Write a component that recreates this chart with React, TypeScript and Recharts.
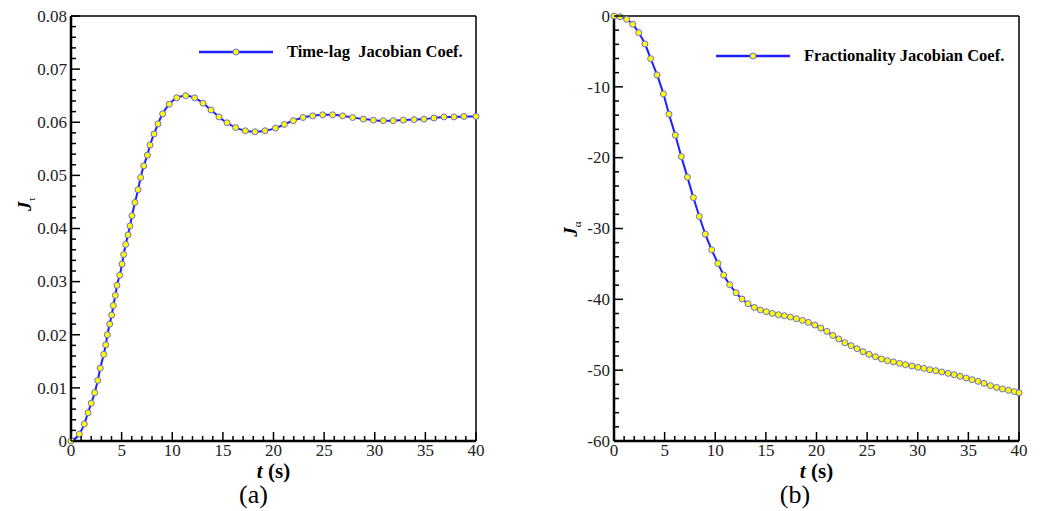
import React from 'react';
import { LineChart, Line, XAxis, YAxis, Legend, ReferenceLine } from 'recharts';

// (a) time-lag Jacobian coefficient, marker positions
const timeA = [
  0, 0.82, 1.31, 1.68, 2.0, 2.34, 2.64, 2.89, 3.23, 3.43, 3.59, 3.82, 4.02, 4.18, 4.38, 4.54,
  4.81, 5.04, 5.2, 5.4, 5.63, 5.83, 6.02, 6.32, 6.62, 6.88, 7.18, 7.54, 7.8, 8.2, 8.59, 9.05,
  9.71, 10.44, 11.33, 12.21, 13.04, 13.83, 14.62, 15.41, 16.26, 17.22, 18.17, 19.16, 20.2,
  21.07, 21.96, 22.91, 23.87, 24.86, 25.84, 26.83, 27.82, 28.87, 29.86, 30.84, 31.83, 32.82,
  33.88, 34.86, 35.85, 36.84, 37.83, 38.81, 40,
];
const jTau = [
  0, 0.0013, 0.0032, 0.0053, 0.0071, 0.0091, 0.0114, 0.0137, 0.0163, 0.0181, 0.02, 0.022,
  0.0237, 0.0255, 0.0274, 0.0293, 0.0312, 0.0333, 0.0351, 0.037, 0.0388, 0.0405, 0.0424,
  0.0449, 0.0473, 0.0496, 0.0518, 0.0538, 0.0557, 0.0578, 0.0597, 0.0616, 0.0634, 0.0646,
  0.065, 0.0646, 0.0636, 0.0623, 0.061, 0.0599, 0.059, 0.0584, 0.0582, 0.0584, 0.0589,
  0.0596, 0.0603, 0.0609, 0.0612, 0.0614, 0.0614, 0.0612, 0.0609, 0.0606, 0.0604, 0.0603,
  0.0603, 0.0604, 0.0605, 0.0606, 0.0608, 0.061, 0.061, 0.0611, 0.0611,
];

// (b) fractionality Jacobian coefficient
const timeB = [
  0, 0.6, 1.25, 1.85, 2.44, 3.06, 3.62, 4.25, 4.88, 5.43, 6.06, 6.65, 7.25, 7.84, 8.43, 9.02,
  9.65, 10.27, 10.83, 11.43, 12.05, 12.64, 13.24, 13.86, 14.46, 15.05, 15.64, 16.24, 16.83,
  17.42, 18.02, 18.61, 19.2, 19.83, 20.42, 21.02, 21.61, 22.2, 22.8, 23.42, 24.01, 24.6, 25.2,
  25.82, 26.42, 27.01, 27.6, 28.2, 28.79, 29.42, 30.01, 30.6, 31.19, 31.78, 32.37, 33.0,
  33.59, 34.18, 34.78, 35.37, 35.96, 36.55, 37.18, 37.78, 38.37, 38.96, 39.56, 40,
];
const jAlpha = [
  0, -0.1, -0.47, -1.17, -2.36, -3.95, -6.02, -8.32, -11.0, -13.86, -16.83, -19.85, -22.75,
  -25.63, -28.31, -30.79, -33.0, -34.94, -36.57, -37.94, -39.07, -39.96, -40.62, -41.14,
  -41.5, -41.75, -41.99, -42.17, -42.31, -42.5, -42.74, -42.98, -43.26, -43.62, -44.05,
  -44.53, -45.09, -45.6, -46.12, -46.54, -46.97, -47.39, -47.77, -48.1, -48.42, -48.66,
  -48.84, -49.04, -49.22, -49.41, -49.6, -49.75, -49.93, -50.07, -50.25, -50.45, -50.63,
  -50.87, -51.1, -51.34, -51.58, -51.86, -52.19, -52.43, -52.65, -52.85, -53.03, -53.2,
];

const xMajor = [0, 5, 10, 15, 20, 25, 30, 35, 40];
const xLabels = ['0', '5', '10', '15', '20', '25', '30', '35', '40'];
const yMajorA = [0, 0.01, 0.02, 0.03, 0.04, 0.05, 0.06, 0.07, 0.08];
const yLabelsA = ['0', '0.01', '0.02', '0.03', '0.04', '0.05', '0.06', '0.07', '0.08'];
const yMajorB = [-60, -50, -40, -30, -20, -10, 0];
const yLabelsB = ['-60', '-50', '-40', '-30', '-20', '-10', '0'];

const SERIF = '"Liberation Serif", "Times New Roman", serif';
const LINE_BLUE = '#1f1fff';
const DOT = { r: 3, fill: '#ffff00', stroke: '#6b6bd6', strokeWidth: 1 };
const AXIS_W = 30;

// four minor ticks between each pair of majors
function withMinor(major: number[]) {
  const out: number[] = [];
  for (let i = 0; i < major.length - 1; i++) {
    const step = (major[i + 1] - major[i]) / 5;
    for (let k = 0; k < 5; k++) out.push(major[i] + step * k);
  }
  out.push(major[major.length - 1]);
  return out;
}

function labelOf(v: number, major: number[], labels: string[]) {
  const i = major.findIndex((m) => Math.abs(m - v) < 1e-9);
  return i >= 0 ? labels[i] : null;
}

const makeXTick = (major: number[], labels: string[]) => (props: any) => {
  const { x, y, payload } = props;
  const label = labelOf(payload.value, major, labels);
  return (
    <g>
      <line x1={x} y1={y} x2={x} y2={y - (label !== null ? 9 : 5)} stroke="#000" strokeWidth={1.5} />
      {label !== null && (
        <text x={x} y={y + 14.5} textAnchor="middle" fontFamily={SERIF} fontSize={17} fill="#222">
          {label}
        </text>
      )}
    </g>
  );
};

const makeYTick = (major: number[], labels: string[]) => (props: any) => {
  const { x, y, payload } = props;
  const label = labelOf(payload.value, major, labels);
  return (
    <g>
      <line x1={x} y1={y} x2={x + (label !== null ? 9 : 5)} y2={y} stroke="#000" strokeWidth={1.5} />
      {label !== null && (
        <text x={x - 4} y={y} dy="0.34em" textAnchor="end" fontFamily={SERIF} fontSize={17} fill="#222">
          {label}
        </text>
      )}
    </g>
  );
};

const makeLegend = (text: string) => () => (
  <svg width={320} height={24} style={{ display: 'block' }}>
    <line x1={0} y1={12} x2={74} y2={12} stroke={LINE_BLUE} strokeWidth={2.5} />
    <circle cx={37} cy={12} r={3} fill="#ffff00" stroke="#6b6bd6" strokeWidth={1} />
    <text x={88} y={17} fontFamily={SERIF} fontWeight="bold" fontSize={16.5} fill="#000" style={{ whiteSpace: 'pre' }}>
      {text}
    </text>
  </svg>
);

interface PanelProps {
  left: number;
  time: number[];
  values: number[];
  yDomain: [number, number];
  yMajor: number[];
  yLabels: string[];
  plotLeft: number;
  marginRight: number;
  legendText: string;
  legendLeft: number;
  legendTop: number;
}

function Panel(p: PanelProps) {
  const data = p.time.map((t, i) => ({ t, v: p.values[i] }));
  return (
    <div style={{ position: 'absolute', left: p.left, top: 0 }}>
      <LineChart
        width={520}
        height={511}
        data={data}
        margin={{ top: 16, right: p.marginRight, bottom: 70 - AXIS_W, left: p.plotLeft - AXIS_W }}
      >
        <XAxis
          dataKey="t"
          type="number"
          domain={[0, 40]}
          ticks={withMinor(xMajor)}
          interval={0}
          height={AXIS_W}
          tickSize={0}
          tickMargin={0}
          tickLine={false}
          tick={makeXTick(xMajor, xLabels)}
          axisLine={{ stroke: '#000', strokeWidth: 2.5 }}
        />
        <YAxis
          type="number"
          domain={p.yDomain}
          ticks={withMinor(p.yMajor)}
          interval={0}
          width={AXIS_W}
          tickSize={0}
          tickMargin={0}
          tickLine={false}
          tick={makeYTick(p.yMajor, p.yLabels)}
          axisLine={{ stroke: '#000', strokeWidth: 2.5 }}
        />
        <ReferenceLine y={p.yDomain[1]} stroke="#000" strokeWidth={1.5} />
        <ReferenceLine x={40} stroke="#000" strokeWidth={1.5} />
        <Legend
          layout="horizontal"
          verticalAlign="middle"
          align="center"
          content={makeLegend(p.legendText)}
          wrapperStyle={{ left: p.legendLeft, top: p.legendTop, width: 320, height: 24 }}
        />
        <Line
          type="monotone"
          dataKey="v"
          stroke={LINE_BLUE}
          strokeWidth={2}
          dot={DOT}
          isAnimationActive={false}
        />
      </LineChart>
    </div>
  );
}

const textBase: React.CSSProperties = {
  position: 'absolute',
  fontFamily: SERIF,
  color: '#000',
  lineHeight: 1,
  whiteSpace: 'nowrap',
  transform: 'translate(-50%, -50%)',
};

function XTitle({ cx }: { cx: number }) {
  return (
    <div style={{ ...textBase, left: cx, top: 470.5, fontSize: 21, fontWeight: 'bold', lineHeight: 0.8 }}>
      <i>t</i> (s)
    </div>
  );
}

function YTitle({ cx, cy, sub }: { cx: number; cy: number; sub: string }) {
  return (
    <div
      style={{
        ...textBase,
        left: cx,
        top: cy,
        fontSize: 19,
        fontWeight: 'bold',
        transform: 'translate(-50%, -50%) rotate(-90deg)',
      }}
    >
      <i>J</i>
      <sub style={{ fontSize: 11, fontWeight: 'normal', verticalAlign: '-0.35em' }}>{sub}</sub>
    </div>
  );
}

function PanelTag({ cx, text }: { cx: number; text: string }) {
  return <div style={{ ...textBase, left: cx, top: 495, fontSize: 26 }}>{text}</div>;
}

export default function App() {
  return (
    <div style={{ position: 'absolute', left: 0, top: 0, width: 1040, height: 511, background: '#fff' }}>
      <Panel
        left={0}
        time={timeA}
        values={jTau}
        yDomain={[0, 0.08]}
        yMajor={yMajorA}
        yLabels={yLabelsA}
        plotLeft={71}
        marginRight={44}
        legendText="Time-lag  Jacobian Coef."
        legendLeft={199}
        legendTop={40}
      />
      <Panel
        left={520}
        time={timeB}
        values={jAlpha}
        yDomain={[-60, 0]}
        yMajor={yMajorB}
        yLabels={yLabelsB}
        plotLeft={94}
        marginRight={21}
        legendText="Fractionality Jacobian Coef."
        legendLeft={196}
        legendTop={44}
      />
      <XTitle cx={273.5} />
      <XTitle cx={816.5} />
      <YTitle cx={26} cy={204} sub="τ" />
      <YTitle cx={572} cy={229} sub="α" />
      <PanelTag cx={253.5} text="(a)" />
      <PanelTag cx={795} text="(b)" />
    </div>
  );
}
